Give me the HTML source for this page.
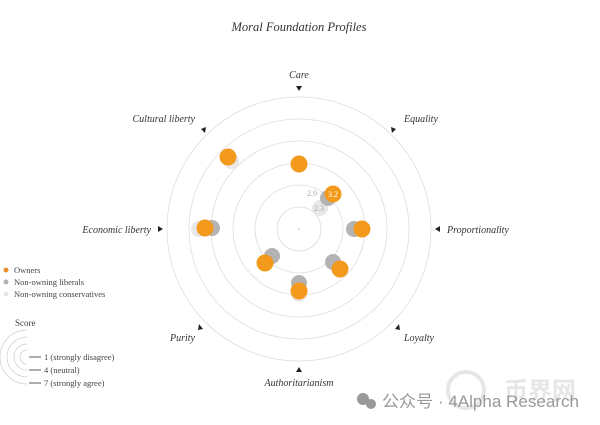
<!DOCTYPE html>
<html><head><meta charset="utf-8"><style>
body{margin:0;background:#fff;}
svg{display:block;font-family:"Liberation Serif",serif;}
</style></head><body>
<svg width="600" height="425" viewBox="0 0 600 425">
<text x="299" y="31" text-anchor="middle" font-size="12.5" font-style="italic" fill="#333">Moral Foundation Profiles</text>
<g fill="none" stroke="#ddd" stroke-width="0.8">
<circle cx="299" cy="229" r="22"/><circle cx="299" cy="229" r="44"/><circle cx="299" cy="229" r="66"/>
<circle cx="299" cy="229" r="88"/><circle cx="299" cy="229" r="110"/><circle cx="299" cy="229" r="132"/>
</g>
<circle cx="299" cy="229" r="0.8" fill="#bbb"/>
<g font-size="10" font-style="italic" fill="#333">
<text x="299" y="78" text-anchor="middle">Care</text>
<text x="404" y="122">Equality</text>
<text x="447" y="233">Proportionality</text>
<text x="404" y="341">Loyalty</text>
<text x="299" y="386" text-anchor="middle">Authoritarianism</text>
<text x="195" y="341" text-anchor="end">Purity</text>
<text x="151" y="233" text-anchor="end">Economic liberty</text>
<text x="195" y="122" text-anchor="end">Cultural liberty</text>
</g>
<g fill="#222">
<polygon points="296,86 302,86 299,91"/>
<polygon points="391,127 396,129 392,133"/>
<polygon points="440,226 440,232 435,229"/>
<polygon points="399,324 400,330 395,329"/>
<polygon points="296,372 302,372 299,367"/>
<polygon points="199,324 198,330 203,329"/>
<polygon points="158,226 158,232 163,229"/>
<polygon points="206,127 201,129 205,133"/>
</g>
<g fill="#e8e8e8">
<circle cx="231" cy="161" r="8"/><circle cx="320" cy="208" r="8"/><circle cx="199" cy="229" r="8"/>
<circle cx="299" cy="294" r="8"/>
</g>
<g fill="#b3b3b3">
<circle cx="212" cy="228" r="8"/><circle cx="354" cy="229" r="8"/><circle cx="333" cy="262" r="8"/>
<circle cx="299" cy="283" r="8"/><circle cx="272" cy="256" r="8"/><circle cx="328" cy="198" r="8"/>
</g>
<g fill="#f39a1d">
<circle cx="299" cy="164" r="8.5"/><circle cx="228" cy="157" r="8.5"/><circle cx="333" cy="194" r="8.5"/>
<circle cx="205" cy="228" r="8.5"/><circle cx="362" cy="229" r="8.5"/><circle cx="340" cy="269" r="8.5"/>
<circle cx="299" cy="291" r="8.5"/><circle cx="265" cy="263" r="8.5"/>
</g>
<g font-size="8" fill="#fff">
<text x="333" y="197" text-anchor="middle">3.2</text>
</g>
<text x="319" y="211" text-anchor="middle" font-size="8" fill="#aaa">2.3</text>
<text x="312" y="196" text-anchor="middle" font-size="8" fill="#aaa">2.9</text>
<g font-size="8.5" fill="#444">
<circle cx="6" cy="270" r="2.5" fill="#e8912c"/><text x="14" y="273">Owners</text>
<circle cx="6" cy="282" r="2.5" fill="#b3b3b3"/><text x="14" y="285">Non-owning liberals</text>
<circle cx="6" cy="294" r="2.5" fill="#e8e8e8"/><text x="14" y="297">Non-owning conservatives</text>
<text x="15" y="326" font-size="9">Score</text>
<text x="44" y="360">1 (strongly disagree)</text>
<text x="44" y="373">4 (neutral)</text>
<text x="44" y="386">7 (strongly agree)</text>
</g>
<g fill="none" stroke="#ccc" stroke-width="0.7">
<path d="M27,337 A20,20 0 0 0 27,377"/><path d="M27,344 A13,13 0 0 0 27,370"/>
<path d="M27,350 A7,7 0 0 0 27,364"/><path d="M27,330 A27,27 0 0 0 27,384"/>
</g>
<g stroke="#333" stroke-width="0.8">
<line x1="29" y1="357" x2="41" y2="357"/><line x1="29" y1="370" x2="41" y2="370"/><line x1="29" y1="383" x2="41" y2="383"/>
</g>
<circle cx="466" cy="390" r="18" fill="none" stroke="#e6e6e6" stroke-width="4"/>
<text x="540" y="399" text-anchor="middle" font-family="'Noto Sans CJK SC',sans-serif" font-size="24" font-weight="bold" fill="#e6e6e6">币界网</text>
<circle cx="363" cy="399" r="6" fill="#999"/><circle cx="371" cy="404" r="5" fill="#999"/>
<text x="382" y="407" font-family="'Liberation Sans','Noto Sans CJK SC',sans-serif" font-size="16.5" fill="#999" textLength="197" lengthAdjust="spacingAndGlyphs">公众号 · 4Alpha Research</text>
</svg>
</body></html>
